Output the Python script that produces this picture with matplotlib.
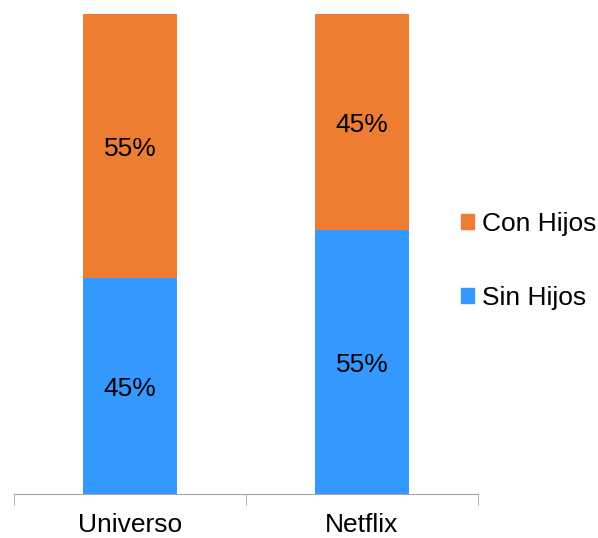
import numpy as np
import matplotlib.pyplot as plt
from matplotlib.patches import Patch

plt.rcParams['font.family'] = ['Liberation Sans', 'DejaVu Sans']

categories = ['Universo', 'Netflix']
sin_hijos = [45, 55]
con_hijos = [55, 45]

blue = '#3399FF'
orange = '#ED7D31'

fig = plt.figure(figsize=(5.98, 5.38), dpi=100)
ax = fig.add_axes([14/598, 44/538, 464/598, 480/538])

x = np.arange(len(categories))
w = 0.405
ax.bar(x, sin_hijos, w, color=blue, label='Sin Hijos')
ax.bar(x, con_hijos, w, bottom=sin_hijos, color=orange, label='Con Hijos')

for i in range(len(categories)):
    ax.text(x[i], sin_hijos[i]/2, '%d%%' % sin_hijos[i], ha='center', va='center_baseline', fontsize=19)
    ax.text(x[i], sin_hijos[i] + con_hijos[i]/2, '%d%%' % con_hijos[i], ha='center', va='center_baseline', fontsize=19)

ax.set_xlim(-0.5, 1.5)
ax.set_ylim(0, 100)
ax.set_yticks([])
ax.set_xticks(x)
ax.set_xticklabels(categories, fontsize=19)
ax.set_xticks([-0.5, 0.5, 1.5], minor=True)
ax.tick_params(axis='x', which='major', length=0, pad=14)
ax.tick_params(axis='x', which='minor', length=8, color='#A6A6A6', direction='out')
for s in ['top', 'right', 'left']:
    ax.spines[s].set_visible(False)
ax.spines['bottom'].set_color('#A6A6A6')

handles = [Patch(color=orange, label='Con Hijos'), Patch(color=blue, label='Sin Hijos')]
fig.legend(handles=handles, loc='center left', bbox_to_anchor=(437/598, 1 - 261/538),
           frameon=False, fontsize=19, handlelength=0.5, handleheight=0.5,
           handletextpad=0.3, labelspacing=1.9)

fig.savefig('out.png', dpi=100)
